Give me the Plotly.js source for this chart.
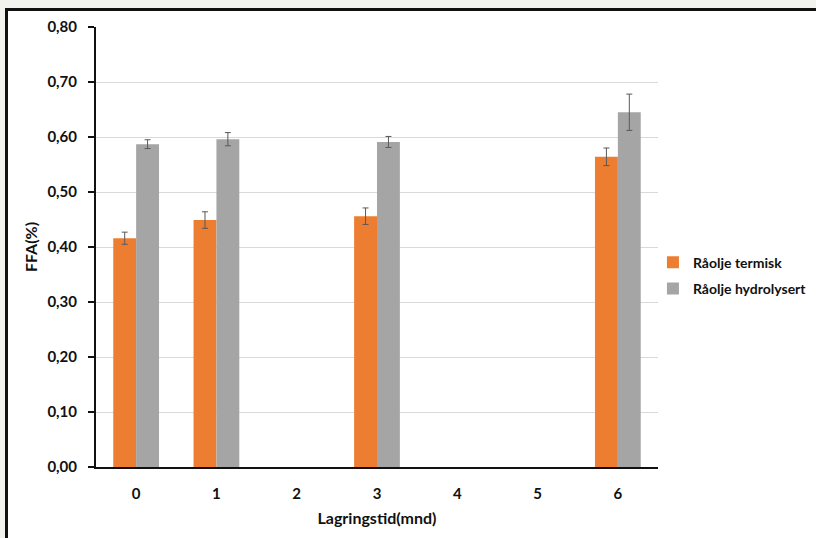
<!DOCTYPE html>
<html>
<head>
<meta charset="utf-8">
<script src="https://cdn.plot.ly/plotly-3.0.1.min.js"></script>
<style>
  html, body { margin:0; padding:0; width:816px; height:538px; overflow:hidden; background:#f2f2ee; }
  #frame { position:absolute; left:5px; top:8px; width:820px; height:540px; background:#ffffff; border-top:3px solid #111; border-left:3px solid #111; }
  #chart { position:absolute; left:0; top:0; width:816px; height:538px; }
</style>
</head>
<body>
<div id="frame"></div>
<div id="chart"></div>
<script>
const categories = ['0', '1', '2', '3', '4', '5', '6'];
const termisk = [0.416, 0.449, null, 0.456, null, null, 0.564];
const termiskErr = [0.011, 0.015, null, 0.015, null, null, 0.016];
const hydrolysert = [0.587, 0.596, null, 0.591, null, null, 0.645];
const hydrolysertErr = [0.008, 0.012, null, 0.010, null, null, 0.033];
const seriesNames = ['Råolje termisk', 'Råolje hydrolysert'];

const errStyle = { type: 'data', visible: true, color: '#595959', thickness: 1, width: 3 };
const font = { family: 'Lato, "Open Sans", sans-serif', color: '#111', weight: 'bold' };

const traces = [
  { type: 'bar', name: seriesNames[0], x: categories, y: termisk, legendgroup: 'a',
    marker: { color: '#ED7D31' },
    error_y: Object.assign({ array: termiskErr }, errStyle) },
  { type: 'bar', name: seriesNames[1], x: categories, y: hydrolysert, legendgroup: 'b',
    marker: { color: '#A5A5A5' },
    error_y: Object.assign({ array: hydrolysertErr }, errStyle) }
];

const layout = {
  width: 816, height: 538,
  margin: { l: 96, r: 158, t: 27, b: 71, autoexpand: false },
  paper_bgcolor: 'rgba(0,0,0,0)',
  plot_bgcolor: '#ffffff',
  separators: ', ',
  font: Object.assign({ size: 15 }, font),
  barmode: 'group',
  bargap: 0.43,
  bargroupgap: 0,
  showlegend: true,
  legend: { x: 0.991, xanchor: 'left', y: 0.435, yanchor: 'middle',
            font: Object.assign({ size: 14 }, font), bgcolor: 'rgba(0,0,0,0)',
            itemwidth: 30, tracegroupgap: 5, traceorder: 'grouped' },
  xaxis: {
    type: 'category', categoryorder: 'array', categoryarray: categories,
    showline: true, linecolor: '#111', linewidth: 2,
    ticks: 'outside', ticklen: 12, tickcolor: 'rgba(0,0,0,0)',
    showgrid: false, zeroline: false,
    tickfont: Object.assign({ size: 15 }, font),
    title: { text: 'Lagringstid(mnd)', font: Object.assign({ size: 16 }, font), standoff: 12 }
  },
  yaxis: {
    range: [0, 0.8], dtick: 0.1, tick0: 0, tickformat: '.2f',
    showline: true, linecolor: '#111', linewidth: 2,
    ticks: 'outside', ticklen: 6, tickcolor: '#111', tickwidth: 2,
    showgrid: true, gridcolor: '#d9d9d9', gridwidth: 1, zeroline: false,
    tickfont: Object.assign({ size: 15 }, font),
    ticklabelstandoff: 8,
    title: { text: 'FFA(%)', font: Object.assign({ size: 16 }, font), standoff: 6 }
  }
};

Plotly.newPlot('chart', traces, layout, { displayModeBar: false, staticPlot: true });
</script>
</body>
</html>
